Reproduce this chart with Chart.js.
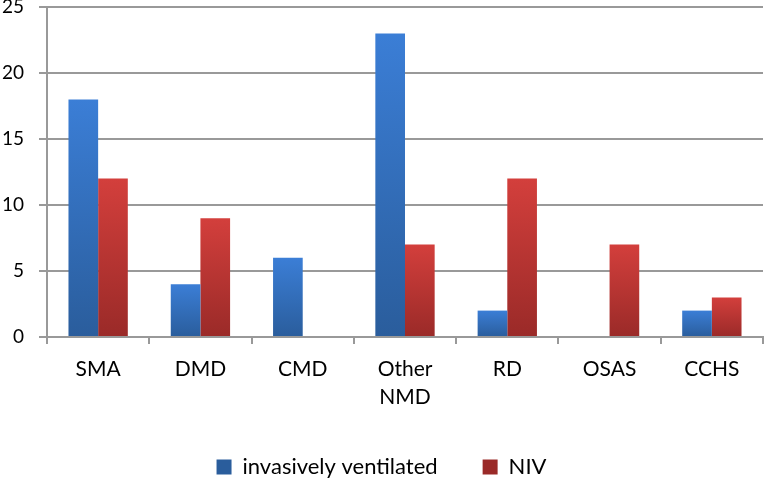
<!DOCTYPE html>
<html>
<head>
<meta charset="utf-8">
<script src="https://cdn.jsdelivr.net/npm/chart.js@4/dist/chart.umd.min.js"></script>
<style>
  html, body { margin: 0; padding: 0; background: #fff; }
  #wrap { width: 771px; height: 483px; }
</style>
</head>
<body>
<div id="wrap"><canvas id="myChart"></canvas></div>
<script>
const categories = ['SMA', 'DMD', 'CMD', ['Other', 'NMD'], 'RD', 'OSAS', 'CCHS'];
const invasive = [18, 4, 6, 23, 2, 0, 2];
const niv = [12, 9, 0, 7, 12, 7, 3];
const yTicks = [0, 5, 10, 15, 20, 25];

// light at the top of each bar, darker at its base
function gradient(top, bottom) {
    return function (c) {
        const chart = c.chart;
        if (!chart.chartArea || c.type !== 'data') return top;
        const y = chart.scales.y;
        const y1 = y.getPixelForValue(c.raw);
        const y0 = y.getPixelForValue(0);
        if (y0 - y1 < 1) return top;
        const g = chart.ctx.createLinearGradient(0, y1, 0, y0);
        g.addColorStop(0, top);
        g.addColorStop(1, bottom);
        return g;
    };
}

const ctx = document.getElementById('myChart');
Chart.defaults.font.family = "Lato, 'Open Sans', sans-serif";
Chart.defaults.color = '#000';

new Chart(ctx, {
    type: 'bar',
    data: {
        labels: categories,
        datasets: [{
            label: 'invasively ventilated',
            data: invasive,
            backgroundColor: gradient('#3b7ed6', '#2a5d9c'),
            categoryPercentage: 0.58,
            barPercentage: 1
        }, {
            label: 'NIV',
            data: niv,
            backgroundColor: gradient('#d33f3c', '#9a2a28'),
            categoryPercentage: 0.58,
            barPercentage: 1
        }]
    },
    options: {
        responsive: true,
        maintainAspectRatio: false,
        animation: false,
        layout: { padding: { top: 0, right: 8, left: 0, bottom: 0 } },
        plugins: {
            legend: {
                position: 'bottom',
                maxHeight: 72,
                labels: {
                    font: { size: 22 },
                    boxWidth: 15,
                    boxHeight: 15,
                    padding: 45
                }
            },
            tooltip: { enabled: false }
        },
        scales: {
            x: {
                grid: {
                    offset: true,
                    drawOnChartArea: false,
                    color: '#999',
                    lineWidth: 2,
                    tickLength: 7
                },
                border: { color: '#999', width: 2 },
                ticks: { font: { size: 21, lineHeight: 1.3 }, padding: 12, maxRotation: 0 },
                afterFit: function (scale) {
                    scale.height = 74;
                }
            },
            y: {
                min: 0,
                max: 25,
                afterBuildTicks: function (axis) {
                    axis.ticks = yTicks.map(v => ({ value: v }));
                },
                afterFit: function (scale) {
                    scale.paddingTop = 7;
                    scale.width = 47;
                },
                ticks: { font: { size: 19 }, padding: 15 },
                grid: { color: '#999', lineWidth: 2, tickLength: 8 },
                border: { color: '#999', width: 2 }
            }
        }
    }
});
</script>
</body>
</html>
